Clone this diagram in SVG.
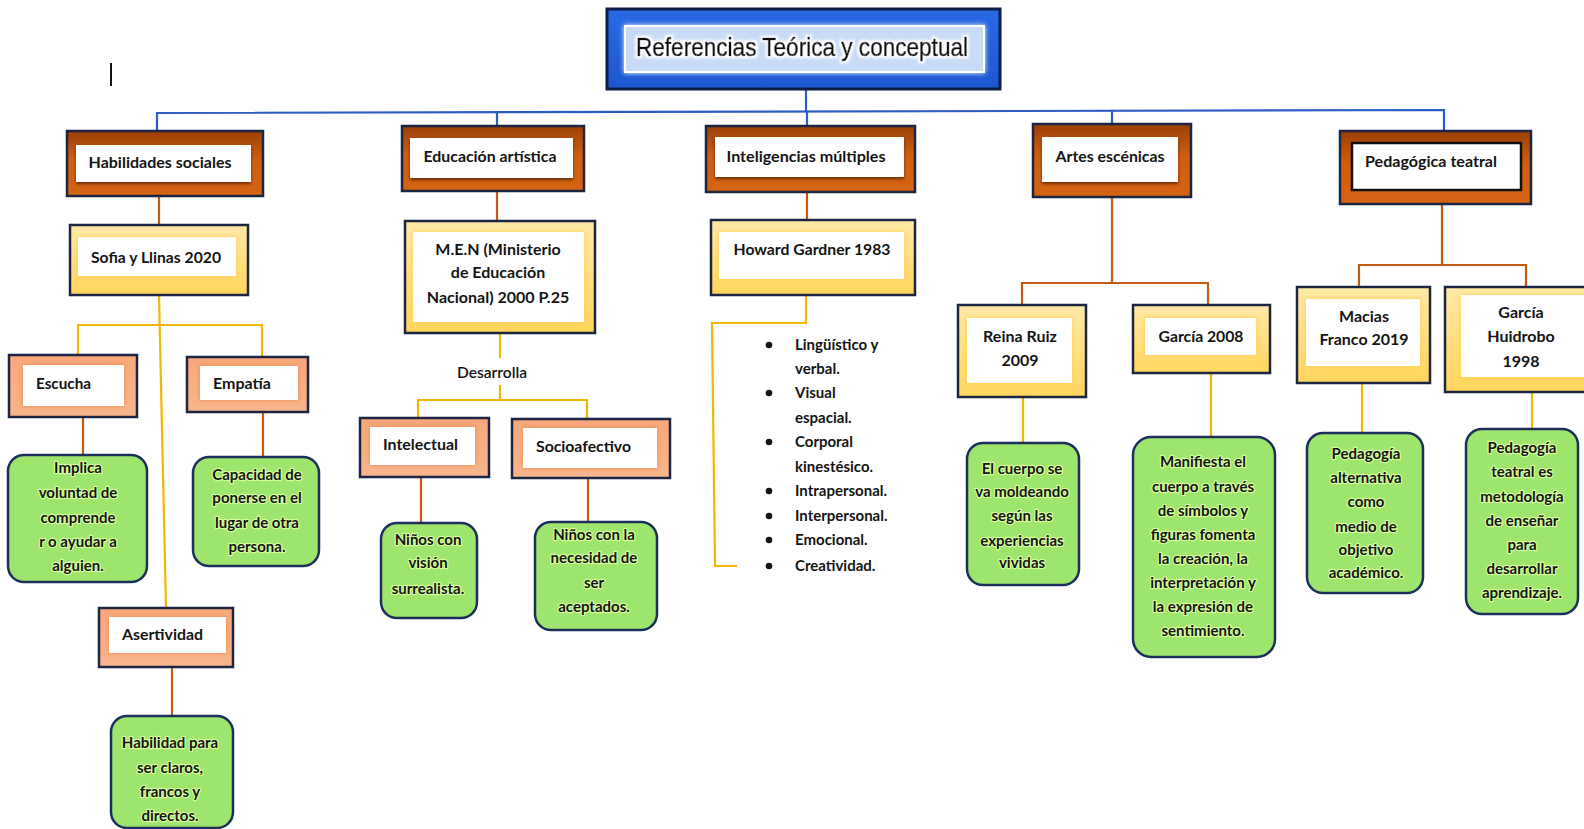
<svg xmlns="http://www.w3.org/2000/svg" width="1584" height="829" viewBox="0 0 1584 829">
<defs>
  <linearGradient id="gOr" x1="0" y1="0" x2="0" y2="1">
    <stop offset="0" stop-color="#9a3f06"/><stop offset="0.45" stop-color="#cf5f10"/><stop offset="1" stop-color="#d46412"/>
  </linearGradient>
  <linearGradient id="gYe" x1="0" y1="0" x2="0" y2="1">
    <stop offset="0" stop-color="#ffe9a6"/><stop offset="1" stop-color="#ffd55c"/>
  </linearGradient>
  <linearGradient id="gSa" x1="0" y1="0" x2="0" y2="1">
    <stop offset="0" stop-color="#f7a77a"/><stop offset="1" stop-color="#f8b58c"/>
  </linearGradient>
  <linearGradient id="gBl" x1="0" y1="0" x2="0" y2="1">
    <stop offset="0" stop-color="#2a6ae6"/><stop offset="1" stop-color="#1b57cf"/>
  </linearGradient>
  <filter id="shO" x="-10%" y="-30%" width="120%" height="170%">
    <feDropShadow dx="0" dy="2" stdDeviation="1.6" flood-color="#5a1c00" flood-opacity="0.85"/>
  </filter>
  <filter id="shY" x="-10%" y="-30%" width="120%" height="170%">
    <feDropShadow dx="0" dy="0" stdDeviation="2" flood-color="#ffc84a" flood-opacity="0.9"/>
  </filter>
  <filter id="shS" x="-10%" y="-30%" width="120%" height="170%">
    <feDropShadow dx="0" dy="0" stdDeviation="2" flood-color="#f07a3a" flood-opacity="0.8"/>
  </filter>
  <filter id="glowW" x="-10%" y="-30%" width="120%" height="170%">
    <feDropShadow dx="0" dy="0" stdDeviation="2.5" flood-color="#ffffff" flood-opacity="1"/>
  </filter>
  <filter id="txtGlow" x="-5%" y="-30%" width="110%" height="160%">
    <feMorphology in="SourceAlpha" operator="dilate" radius="1.6" result="d"/>
    <feGaussianBlur in="d" stdDeviation="0.8" result="b"/>
    <feFlood flood-color="#ffffff"/>
    <feComposite in2="b" operator="in" result="w"/>
    <feMerge><feMergeNode in="w"/><feMergeNode in="SourceGraphic"/></feMerge>
  </filter>
</defs>
<style>
  .t{font-family:Lato,"Liberation Sans",sans-serif;fill:#141414;font-weight:700;}
  .lbl{font-size:16px;}
  .c{text-anchor:middle;}
  .g{font-size:15px;text-anchor:middle;stroke:#d6ff9e;stroke-width:2.4;stroke-linejoin:round;paint-order:stroke;}
  .li{font-size:15px;}
  .cat{fill:url(#gOr);stroke:#1c2544;stroke-width:2.5;}
  .catIn{fill:#ffffff;filter:url(#shO);}
  .yel{fill:url(#gYe);stroke:#1c2544;stroke-width:2.5;}
  .yelIn{fill:#ffffff;filter:url(#shY);}
  .sal{fill:url(#gSa);stroke:#1c2544;stroke-width:2.5;}
  .salIn{fill:#ffffff;filter:url(#shS);}
  .grn{fill:#9de56c;stroke:#1c2e5a;stroke-width:2.5;}
  .cb{fill:none;stroke:#2c5cc5;stroke-width:2.2;}
  .co{fill:none;stroke:#c55a11;stroke-width:2.2;}
  .cy{fill:none;stroke:#f2b705;stroke-width:2.2;}
</style>
<rect width="1584" height="829" fill="#ffffff"/>
<rect x="110" y="63" width="2" height="23" fill="#111"/>

<g id="connectors">
  <path class="cb" d="M806,89 V111.5"/>
  <path class="cb" d="M157,131 V113 L1444,110 V131"/>
  <path class="cb" d="M497,112.2 V126"/>
  <path class="cb" d="M807,111.5 V126"/>
  <path class="cb" d="M1112,110.8 V124"/>

  <path class="co" d="M159,196 V225"/>
  <path class="co" d="M497,191 V221"/>
  <path class="co" d="M807,192 V220"/>
  <path class="co" d="M1112,197 V283 M1022,305 V283 H1208 V305"/>
  <path class="co" d="M1442,204 V265 M1359,287 V265 H1526 V287"/>
  <path class="co" d="M83,417 V455"/>
  <path class="co" d="M263,412 V457"/>
  <path class="co" d="M172,667 V716"/>
  <path class="co" d="M421,477 V523"/>
  <path class="co" d="M588,478 V522"/>

  <path class="cy" d="M159,295 L166,608"/>
  <path class="cy" d="M78,355 V325 H262 V357"/>
  <path class="cy" d="M500,333 V358 M500,385 V400 M418,418 V400 H587 V419"/>
  <path class="cy" d="M806,295 V323 H712 L715,566 H737"/>
  <path class="cy" d="M1023,397 V443"/>
  <path class="cy" d="M1211,373 V437"/>
  <path class="cy" d="M1362,383 V433"/>
  <path class="cy" d="M1532,392 V429"/>
</g>

<g id="title">
  <rect x="607" y="9" width="393" height="80" fill="url(#gBl)" stroke="#0e1d46" stroke-width="3"/>
  <rect x="625" y="26" width="359" height="46" fill="#c8dbf6" stroke="#ffffff" stroke-width="2" filter="url(#glowW)"/>
  <text x="802" y="56" text-anchor="middle" font-family="'Liberation Sans',Arial,sans-serif" font-size="26" fill="#111" stroke="#111" stroke-width="0.7" filter="url(#txtGlow)" textLength="332" lengthAdjust="spacingAndGlyphs">Referencias Teórica y conceptual</text>
</g>

<g id="habilidades">
  <rect class="cat" x="67" y="131" width="196" height="65"/>
  <rect class="catIn" x="76" y="145" width="175" height="37"/>
  <text class="t lbl c" x="160" y="168" textLength="143" lengthAdjust="spacingAndGlyphs">Habilidades sociales</text>
</g>
<g id="educacion">
  <rect class="cat" x="402" y="126" width="182" height="65"/>
  <rect class="catIn" x="410" y="138" width="163" height="40"/>
  <text class="t lbl c" x="490" y="162" textLength="133" lengthAdjust="spacingAndGlyphs">Educación artística</text>
</g>
<g id="inteligencias">
  <rect class="cat" x="706" y="126" width="209" height="66"/>
  <rect class="catIn" x="715" y="137" width="189" height="40"/>
  <text class="t lbl c" x="806" y="162" textLength="159" lengthAdjust="spacingAndGlyphs">Inteligencias múltiples</text>
</g>
<g id="artes">
  <rect class="cat" x="1033" y="124" width="158" height="73"/>
  <rect class="catIn" x="1042" y="137" width="136" height="45"/>
  <text class="t lbl c" x="1110" y="162" textLength="109" lengthAdjust="spacingAndGlyphs">Artes escénicas</text>
</g>
<g id="pedagogica">
  <rect class="cat" x="1340" y="131" width="191" height="73"/>
  <rect x="1352" y="143" width="169" height="47" fill="#ffffff" stroke="#111" stroke-width="2.5"/>
  <text class="t lbl c" x="1431" y="167" textLength="132" lengthAdjust="spacingAndGlyphs">Pedagógica teatral</text>
</g>

<g id="sofia">
  <rect class="yel" x="70" y="225" width="178" height="70"/>
  <rect class="yelIn" x="78" y="237" width="158" height="39"/>
  <text class="t lbl c" x="156" y="263" textLength="130" lengthAdjust="spacingAndGlyphs">Sofia y Llinas 2020</text>
</g>
<g id="men">
  <rect class="yel" x="405" y="221" width="190" height="112"/>
  <rect class="yelIn" x="413" y="232" width="171" height="90"/>
  <text class="t lbl c" x="498" y="255">M.E.N (Ministerio</text>
  <text class="t lbl c" x="498" y="278">de Educación</text>
  <text class="t lbl c" x="498" y="303">Nacional) 2000 P.25</text>
</g>
<g id="howard">
  <rect class="yel" x="711" y="220" width="204" height="75"/>
  <rect class="yelIn" x="719" y="232" width="185" height="47"/>
  <text class="t lbl c" x="812" y="255" textLength="157" lengthAdjust="spacingAndGlyphs">Howard Gardner 1983</text>
</g>
<g id="reina">
  <rect class="yel" x="958" y="305" width="128" height="92"/>
  <rect class="yelIn" x="967" y="318" width="105" height="65"/>
  <text class="t lbl c" x="1020" y="342">Reina Ruiz</text>
  <text class="t lbl c" x="1020" y="366">2009</text>
</g>
<g id="garcia2008">
  <rect class="yel" x="1133" y="305" width="137" height="68"/>
  <rect class="yelIn" x="1145" y="318" width="111" height="37"/>
  <text class="t lbl c" x="1201" y="342" textLength="85" lengthAdjust="spacingAndGlyphs">García 2008</text>
</g>
<g id="macias">
  <rect class="yel" x="1297" y="287" width="133" height="96"/>
  <rect class="yelIn" x="1306" y="299" width="114" height="67"/>
  <text class="t lbl c" x="1364" y="322">Macias</text>
  <text class="t lbl c" x="1364" y="345">Franco 2019</text>
</g>
<g id="garciaHuidrobo">
  <rect class="yel" x="1445" y="287" width="150" height="105"/>
  <rect class="yelIn" x="1461" y="295" width="130" height="82"/>
  <text class="t lbl c" x="1521" y="318">García</text>
  <text class="t lbl c" x="1521" y="342">Huidrobo</text>
  <text class="t lbl c" x="1521" y="367">1998</text>
</g>

<g id="escucha">
  <rect class="sal" x="9" y="355" width="128" height="62"/>
  <rect class="salIn" x="23" y="365" width="101" height="41"/>
  <text class="t lbl" x="36" y="389" textLength="55" lengthAdjust="spacingAndGlyphs">Escucha</text>
</g>
<g id="empatia">
  <rect class="sal" x="187" y="357" width="121" height="55"/>
  <rect class="salIn" x="200" y="366" width="98" height="34"/>
  <text class="t lbl" x="213" y="389" textLength="58" lengthAdjust="spacingAndGlyphs">Empatía</text>
</g>
<g id="asertividad">
  <rect class="sal" x="99" y="608" width="134" height="59"/>
  <rect class="salIn" x="109" y="617" width="117" height="36"/>
  <text class="t lbl" x="122" y="640" textLength="81" lengthAdjust="spacingAndGlyphs">Asertividad</text>
</g>
<g id="desarrolla">
  <text class="t lbl c" x="492" y="378" textLength="70" lengthAdjust="spacingAndGlyphs" style="font-weight:600">Desarrolla</text>
</g>
<g id="intelectual">
  <rect class="sal" x="360" y="418" width="129" height="59"/>
  <rect class="salIn" x="370" y="427" width="105" height="38"/>
  <text class="t lbl" x="383" y="450" textLength="75" lengthAdjust="spacingAndGlyphs">Intelectual</text>
</g>
<g id="socioafectivo">
  <rect class="sal" x="512" y="419" width="158" height="59"/>
  <rect class="salIn" x="523" y="428" width="134" height="40"/>
  <text class="t lbl" x="536" y="452" textLength="95" lengthAdjust="spacingAndGlyphs">Socioafectivo</text>
</g>

<g id="implica">
  <rect class="grn" x="8" y="455" width="139" height="127" rx="16"/>
  <text class="t g" x="78" y="473">Implica</text>
  <text class="t g" x="78" y="498">voluntad de</text>
  <text class="t g" x="78" y="523">comprende</text>
  <text class="t g" x="78" y="547">r o ayudar a</text>
  <text class="t g" x="78" y="571">alguien.</text>
</g>
<g id="capacidad">
  <rect class="grn" x="193" y="457" width="126" height="109" rx="16"/>
  <text class="t g" x="257" y="480">Capacidad de</text>
  <text class="t g" x="257" y="503">ponerse en el</text>
  <text class="t g" x="257" y="528">lugar de otra</text>
  <text class="t g" x="257" y="552">persona.</text>
</g>
<g id="habilidadPara">
  <rect class="grn" x="111" y="716" width="122" height="112" rx="16"/>
  <text class="t g" x="170" y="748">Habilidad para</text>
  <text class="t g" x="170" y="773">ser claros,</text>
  <text class="t g" x="170" y="797">francos y</text>
  <text class="t g" x="170" y="821">directos.</text>
</g>
<g id="ninosVision">
  <rect class="grn" x="381" y="523" width="96" height="95" rx="16"/>
  <text class="t g" x="428" y="545">Niños con</text>
  <text class="t g" x="428" y="568">visión</text>
  <text class="t g" x="428" y="594">surrealista.</text>
</g>
<g id="ninosNecesidad">
  <rect class="grn" x="535" y="522" width="122" height="108" rx="16"/>
  <text class="t g" x="594" y="540">Niños con la</text>
  <text class="t g" x="594" y="563">necesidad de</text>
  <text class="t g" x="594" y="588">ser</text>
  <text class="t g" x="594" y="612">aceptados.</text>
</g>

<g id="listaInteligencias">
  <circle cx="769" cy="345" r="3.3" fill="#141414"/>
  <circle cx="769" cy="393" r="3.3" fill="#141414"/>
  <circle cx="769" cy="442" r="3.3" fill="#141414"/>
  <circle cx="769" cy="491" r="3.3" fill="#141414"/>
  <circle cx="769" cy="516" r="3.3" fill="#141414"/>
  <circle cx="769" cy="540" r="3.3" fill="#141414"/>
  <circle cx="769" cy="566" r="3.3" fill="#141414"/>
  <text class="t li" x="795" y="350">Lingüístico y</text>
  <text class="t li" x="795" y="374">verbal.</text>
  <text class="t li" x="795" y="398">Visual</text>
  <text class="t li" x="795" y="423">espacial.</text>
  <text class="t li" x="795" y="447">Corporal</text>
  <text class="t li" x="795" y="472">kinestésico.</text>
  <text class="t li" x="795" y="496">Intrapersonal.</text>
  <text class="t li" x="795" y="521">Interpersonal.</text>
  <text class="t li" x="795" y="545">Emocional.</text>
  <text class="t li" x="795" y="571">Creatividad.</text>
</g>

<g id="cuerpoMoldeando">
  <rect class="grn" x="967" y="443" width="112" height="142" rx="16"/>
  <text class="t g" x="1022" y="474">El cuerpo se</text>
  <text class="t g" x="1022" y="497">va moldeando</text>
  <text class="t g" x="1022" y="521">según las</text>
  <text class="t g" x="1022" y="546">experiencias</text>
  <text class="t g" x="1022" y="568">vividas</text>
</g>
<g id="manifiesta">
  <rect class="grn" x="1133" y="437" width="142" height="220" rx="18"/>
  <text class="t g" x="1203" y="467">Manifiesta el</text>
  <text class="t g" x="1203" y="492">cuerpo a través</text>
  <text class="t g" x="1203" y="516">de símbolos y</text>
  <text class="t g" x="1203" y="540">figuras fomenta</text>
  <text class="t g" x="1203" y="564">la creación, la</text>
  <text class="t g" x="1203" y="588">interpretación y</text>
  <text class="t g" x="1203" y="612">la expresión de</text>
  <text class="t g" x="1203" y="636">sentimiento.</text>
</g>
<g id="pedagogiaAlternativa">
  <rect class="grn" x="1307" y="433" width="116" height="160" rx="16"/>
  <text class="t g" x="1366" y="459">Pedagogía</text>
  <text class="t g" x="1366" y="483">alternativa</text>
  <text class="t g" x="1366" y="507">como</text>
  <text class="t g" x="1366" y="532">medio de</text>
  <text class="t g" x="1366" y="555">objetivo</text>
  <text class="t g" x="1366" y="578">académico.</text>
</g>
<g id="pedagogiaTeatral">
  <rect class="grn" x="1466" y="429" width="112" height="185" rx="16"/>
  <text class="t g" x="1522" y="453">Pedagogía</text>
  <text class="t g" x="1522" y="477">teatral es</text>
  <text class="t g" x="1522" y="502">metodología</text>
  <text class="t g" x="1522" y="526">de enseñar</text>
  <text class="t g" x="1522" y="550">para</text>
  <text class="t g" x="1522" y="574">desarrollar</text>
  <text class="t g" x="1522" y="598">aprendizaje.</text>
</g>
</svg>
